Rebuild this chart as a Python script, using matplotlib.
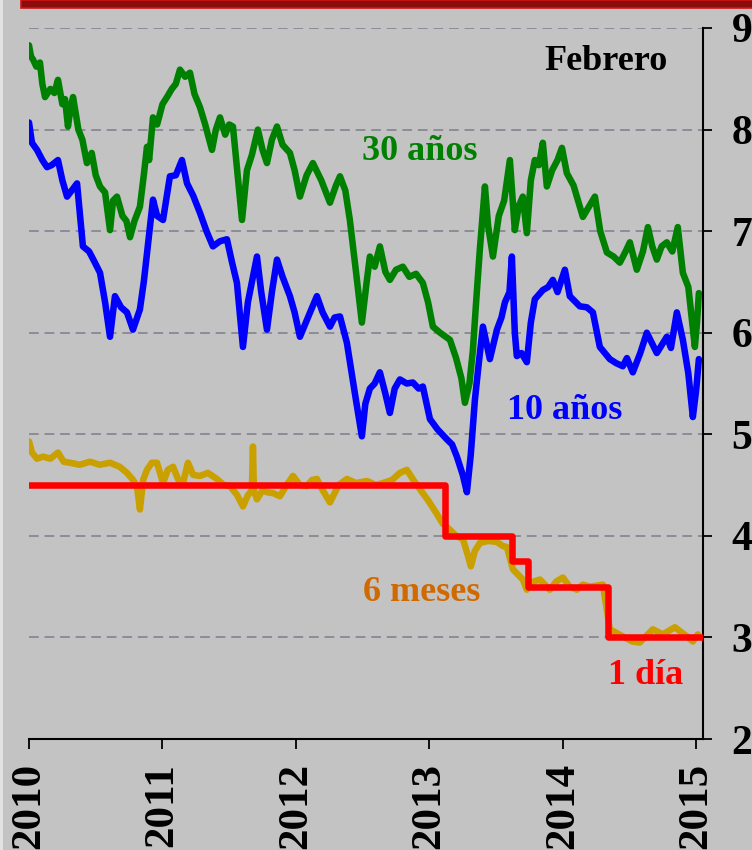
import matplotlib
matplotlib.use("Agg")
import matplotlib.pyplot as plt
import matplotlib.patches as patches

# tasas (%), tiempo en años decimales
t30 = [2010.000, 2010.015, 2010.030, 2010.055, 2010.082, 2010.100, 2010.120, 2010.160, 2010.190, 2010.217,
       2010.250, 2010.270, 2010.292, 2010.310, 2010.330, 2010.370, 2010.400, 2010.434, 2010.470, 2010.500,
       2010.532, 2010.570, 2010.607, 2010.630, 2010.659, 2010.700, 2010.730, 2010.757, 2010.790, 2010.831,
       2010.860, 2010.884, 2010.900, 2010.929, 2010.960, 2011.000, 2011.034, 2011.070, 2011.100, 2011.131,
       2011.170, 2011.206, 2011.240, 2011.281, 2011.320, 2011.371, 2011.400, 2011.431, 2011.470, 2011.500,
       2011.528, 2011.560, 2011.596, 2011.633, 2011.670, 2011.715, 2011.750, 2011.783, 2011.820, 2011.858,
       2011.900, 2011.955, 2011.990, 2012.030, 2012.080, 2012.127, 2012.190, 2012.255, 2012.300, 2012.330,
       2012.370, 2012.404, 2012.450, 2012.494, 2012.530, 2012.554, 2012.590, 2012.629, 2012.670, 2012.704,
       2012.750, 2012.801, 2012.850, 2012.900, 2012.951, 2012.990, 2013.026, 2013.080, 2013.154, 2013.200,
       2013.240, 2013.266, 2013.300, 2013.326, 2013.350, 2013.378, 2013.416, 2013.440, 2013.476, 2013.520,
       2013.560, 2013.603, 2013.640, 2013.670, 2013.700, 2013.730, 2013.760, 2013.790, 2013.820, 2013.850,
       2013.880, 2013.920, 2013.960, 2013.993, 2014.030, 2014.080, 2014.150, 2014.200, 2014.240, 2014.280,
       2014.330, 2014.380, 2014.427, 2014.470, 2014.502, 2014.554, 2014.600, 2014.637, 2014.670, 2014.704,
       2014.740, 2014.779, 2014.820, 2014.861, 2014.899, 2014.940, 2014.989, 2015.005, 2015.019]
y30 = [8.83, 8.72, 8.69, 8.62, 8.66, 8.45, 8.32, 8.40, 8.36, 8.49,
       8.25, 8.30, 8.03, 8.20, 8.32, 8.00, 7.90, 7.67, 7.77, 7.55,
       7.44, 7.38, 7.01, 7.30, 7.34, 7.15, 7.10, 6.94, 7.10, 7.24,
       7.55, 7.83, 7.70, 8.12, 8.05, 8.25, 8.32, 8.40, 8.45, 8.59,
       8.52, 8.56, 8.35, 8.22, 8.05, 7.80, 8.00, 8.12, 7.95, 8.05,
       8.03, 7.60, 7.11, 7.60, 7.75, 8.00, 7.80, 7.67, 7.90, 8.03,
       7.85, 7.77, 7.60, 7.34, 7.55, 7.67, 7.50, 7.28, 7.45, 7.54,
       7.40, 7.11, 6.60, 6.10, 6.50, 6.75, 6.65, 6.85, 6.60, 6.52,
       6.62, 6.65, 6.55, 6.58, 6.49, 6.30, 6.06, 6.00, 5.93, 5.75,
       5.55, 5.31, 5.50, 5.83, 6.30, 6.82, 7.44, 7.05, 6.75, 7.15,
       7.30, 7.70, 7.01, 7.25, 7.34, 6.98, 7.50, 7.70, 7.65, 7.87,
       7.44, 7.60, 7.70, 7.82, 7.57, 7.45, 7.14, 7.25, 7.34, 7.00,
       6.79, 6.75, 6.69, 6.80, 6.89, 6.62, 6.80, 7.04, 6.85, 6.72,
       6.85, 6.89, 6.80, 7.04, 6.59, 6.45, 5.86, 6.10, 6.39]

t10 = [2010.000, 2010.022, 2010.060, 2010.100, 2010.135, 2010.170, 2010.217, 2010.250, 2010.285, 2010.320,
       2010.360, 2010.404, 2010.450, 2010.490, 2010.532, 2010.570, 2010.607, 2010.644, 2010.690, 2010.734,
       2010.779, 2010.831, 2010.860, 2010.884, 2010.929, 2010.960, 2011.004, 2011.056, 2011.100, 2011.146,
       2011.184, 2011.230, 2011.281, 2011.330, 2011.378, 2011.430, 2011.483, 2011.520, 2011.558, 2011.603,
       2011.640, 2011.708, 2011.740, 2011.783, 2011.820, 2011.858, 2011.900, 2011.955, 2011.990, 2012.030,
       2012.090, 2012.157, 2012.200, 2012.255, 2012.290, 2012.330, 2012.382, 2012.442, 2012.494, 2012.520,
       2012.554, 2012.590, 2012.629, 2012.670, 2012.704, 2012.740, 2012.779, 2012.830, 2012.876, 2012.920,
       2012.951, 2013.004, 2013.060, 2013.131, 2013.170, 2013.206, 2013.250, 2013.281, 2013.310, 2013.341,
       2013.370, 2013.401, 2013.453, 2013.506, 2013.540, 2013.566, 2013.600, 2013.618, 2013.640, 2013.655,
       2013.690, 2013.730, 2013.760, 2013.790, 2013.850, 2013.890, 2013.925, 2013.960, 2014.015, 2014.052,
       2014.127, 2014.180, 2014.225, 2014.277, 2014.352, 2014.400, 2014.449, 2014.480, 2014.524, 2014.580,
       2014.629, 2014.704, 2014.779, 2014.810, 2014.854, 2014.899, 2014.940, 2014.974, 2015.000, 2015.019]
y10 = [8.07, 7.87, 7.80, 7.70, 7.63, 7.65, 7.70, 7.50, 7.34, 7.40,
       7.47, 6.85, 6.80, 6.70, 6.59, 6.30, 5.96, 6.36, 6.25, 6.20,
       6.03, 6.23, 6.50, 6.78, 7.31, 7.15, 7.11, 7.54, 7.55, 7.70,
       7.47, 7.35, 7.18, 7.00, 6.85, 6.90, 6.92, 6.70, 6.49, 5.86,
       6.30, 6.75, 6.40, 6.03, 6.40, 6.72, 6.55, 6.36, 6.20, 5.96,
       6.15, 6.36, 6.20, 6.06, 6.15, 6.16, 5.90, 5.40, 4.98, 5.30,
       5.45, 5.50, 5.61, 5.40, 5.21, 5.45, 5.54, 5.50, 5.51, 5.45,
       5.47, 5.15, 5.05, 4.95, 4.90, 4.78, 4.60, 4.43, 4.80, 5.34,
       5.70, 6.06, 5.74, 6.03, 6.15, 6.30, 6.40, 6.75, 6.00, 5.77,
       5.80, 5.71, 6.10, 6.33, 6.42, 6.45, 6.52, 6.40, 6.62, 6.36,
       6.26, 6.25, 6.20, 5.86, 5.74, 5.70, 5.67, 5.75, 5.61, 5.80,
       6.00, 5.80, 5.96, 5.85, 6.20, 5.93, 5.60, 5.17, 5.45, 5.74]

t6m = [2010.000, 2010.022, 2010.060, 2010.105, 2010.160, 2010.217, 2010.260, 2010.307, 2010.380, 2010.457,
       2010.530, 2010.607, 2010.680, 2010.734, 2010.780, 2010.809, 2010.831, 2010.855, 2010.884, 2010.920,
       2010.959, 2011.004, 2011.040, 2011.079, 2011.120, 2011.154, 2011.191, 2011.230, 2011.281, 2011.340,
       2011.408, 2011.460, 2011.506, 2011.560, 2011.603, 2011.640, 2011.670, 2011.678, 2011.685, 2011.708,
       2011.750, 2011.783, 2011.830, 2011.880, 2011.930, 2011.978, 2012.030, 2012.082, 2012.120, 2012.157,
       2012.200, 2012.255, 2012.320, 2012.382, 2012.450, 2012.532, 2012.600, 2012.652, 2012.720, 2012.779,
       2012.831, 2012.880, 2012.929, 2012.990, 2013.049, 2013.100, 2013.154, 2013.200, 2013.251, 2013.290,
       2013.311, 2013.340, 2013.378, 2013.440, 2013.506, 2013.550, 2013.581, 2013.626, 2013.700, 2013.730,
       2013.780, 2013.828, 2013.902, 2013.950, 2014.000, 2014.050, 2014.105, 2014.150, 2014.202, 2014.300,
       2014.352, 2014.449, 2014.520, 2014.576, 2014.674, 2014.749, 2014.839, 2014.929, 2014.974, 2015.011]
y6m = [4.93, 4.82, 4.76, 4.78, 4.76, 4.82, 4.73, 4.72, 4.70, 4.73,
       4.70, 4.72, 4.68, 4.62, 4.55, 4.49, 4.26, 4.55, 4.65, 4.72,
       4.72, 4.52, 4.65, 4.68, 4.55, 4.52, 4.72, 4.60, 4.59, 4.62,
       4.56, 4.50, 4.49, 4.40, 4.29, 4.40, 4.45, 4.88, 4.45, 4.36,
       4.45, 4.43, 4.42, 4.39, 4.50, 4.59, 4.50, 4.49, 4.55, 4.56,
       4.45, 4.33, 4.50, 4.56, 4.52, 4.54, 4.50, 4.52, 4.55, 4.62,
       4.65, 4.55, 4.46, 4.35, 4.23, 4.12, 4.06, 4.00, 3.97, 3.80,
       3.70, 3.85, 3.93, 3.95, 3.94, 3.90, 3.89, 3.67, 3.57, 3.47,
       3.55, 3.57, 3.47, 3.55, 3.59, 3.50, 3.47, 3.52, 3.50, 3.52,
       3.08, 3.01, 2.96, 2.95, 3.08, 3.03, 3.10, 3.01, 2.96, 3.03]

t1d = [2010.00, 2013.12, 2013.62, 2013.74, 2014.34, 2015.03]
y1d = [4.50, 4.00, 3.75, 3.50, 3.00, 3.00]

years = [2010, 2011, 2012, 2013, 2014, 2015]
yticks = [2, 3, 4, 5, 6, 7, 8, 9]

bg = "#c3c3c3"
plt.rcParams["font.family"] = ["Liberation Serif", "DejaVu Serif"]
plt.rcParams["font.weight"] = "bold"

fig = plt.figure(figsize=(7.52, 8.5), dpi=100, facecolor=bg)
ax = fig.add_axes([29/752, 1-739/850, (703-29)/752, (739-28)/850])
ax.set_facecolor(bg)

lw = 4.7
ax.plot(t30, y30, color="#008000", lw=lw, solid_joinstyle="round", solid_capstyle="round", zorder=4)
ax.plot(t10, y10, color="#0000ff", lw=lw, solid_joinstyle="round", solid_capstyle="round", zorder=4)
ax.plot(t6m, y6m, color="#c9a000", lw=lw, solid_joinstyle="round", solid_capstyle="round", zorder=3)
ax.step(t1d, y1d, where="post", color="#ff0000", lw=lw, zorder=3.5)

ax.set_xlim(2010, 2015.05)
ax.set_ylim(2, 9)
ax.set_xticks(years)
ax.set_xticklabels([str(y) for y in years], rotation=90, fontsize=31, fontweight="bold")
ax.yaxis.tick_right()
ax.set_yticks(yticks)
ax.set_yticklabels([str(v) for v in yticks], fontsize=30, fontweight="bold")
ax.tick_params(axis="x", direction="out", length=7.5, width=1.3, pad=10)
ax.tick_params(axis="y", direction="out", length=6.5, width=1.3, pad=14)

for s in ["left", "top"]:
    ax.spines[s].set_visible(False)
for s in ["bottom", "right"]:
    ax.spines[s].set_linewidth(1.5)

for v in yticks[1:]:
    ax.axhline(v, color="#8c8c96", lw=1.4, ls=(0, (5, 3)), zorder=1)

ax.text(2014.32, 8.67, "Febrero", color="black", fontsize=26, fontweight="bold", ha="center", va="center")
ax.text(2012.93, 7.78, "30 años", color="#008000", fontsize=26, fontweight="bold", ha="center", va="center")
ax.text(2014.01, 5.23, "10 años", color="#0000ff", fontsize=26, fontweight="bold", ha="center", va="center")
ax.text(2012.94, 3.44, "6 meses", color="#d06a00", fontsize=26, fontweight="bold", ha="center", va="center")
ax.text(2014.62, 2.63, "1 día", color="#ff0000", fontsize=26, fontweight="bold", ha="center", va="center")

# franja roja superior y borde claro izquierdo
fig.patches.append(patches.Rectangle((21/752, 1-8/850), 1, 8/850, transform=fig.transFigure,
                                     facecolor="#8a0c0c", edgecolor="#d01414", lw=1.2))
fig.patches.append(patches.Rectangle((0, 0), 3/752, 1, transform=fig.transFigure,
                                     facecolor="#e2e2e2", edgecolor="none"))

fig.savefig("out.png", dpi=100, facecolor=bg)
